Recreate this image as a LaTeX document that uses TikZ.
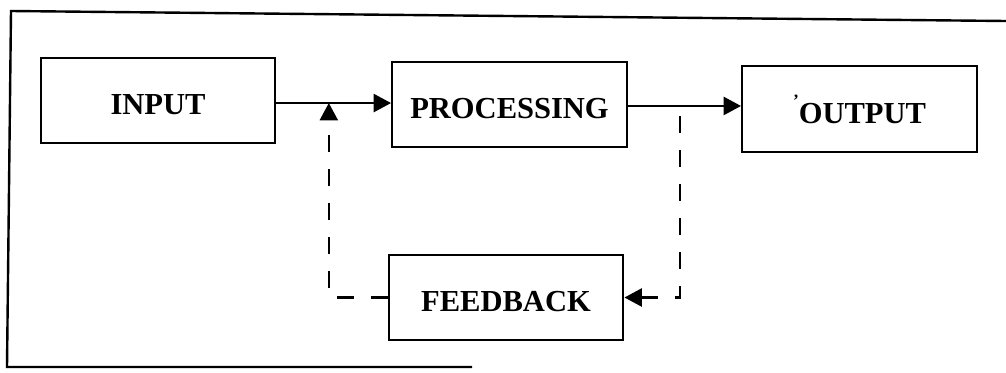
\documentclass[tikz,border=0pt]{standalone}
\usepackage{fontspec}
\setmainfont{Liberation Serif}
\usetikzlibrary{arrows.meta,calc}
\begin{document}
\begin{tikzpicture}[x=0.75pt,y=-0.75pt,
  box/.style={draw, line width=1.7pt, minimum width=176pt, minimum height=64pt,
    inner sep=0pt, font=\fontsize{22.9}{26}\selectfont\bfseries,
    text height=21pt, text depth=0pt},
  flow/.style={line width=1.7pt, -{Triangle[length=13pt,width=13.5pt]}},
  fbflow/.style={flow, dash pattern=on 12.75pt off 12.75pt},
  frame/.style={line width=1.8pt}]
\useasboundingbox (0,0) rectangle (1006,372);
% outer frame
\draw[frame] (1006,21) -- (11,11) -- (7,367) -- (472,367);
% boxes
\node[box] (input) at (158,100.5) {INPUT};
\node[box] (proc) at (509.5,104.5) {PROCESSING};
\node[box] (out) at (859.5,109) {\raisebox{1.2ex}{\fontsize{13}{13}\selectfont'}OUTPUT};
\node[box] (fb) at (506,297.5) {FEEDBACK};
% main flow
\draw[flow] ([yshift=-1.9pt]input.east) -- ([yshift=-1.9pt]input.east -| proc.west);
\draw[flow] ([yshift=-1.1pt]proc.east) -- ([yshift=-1.1pt]proc.east -| out.west);
% feedback loop
\coordinate (tap) at ([yshift=-1.1pt]$(proc.east)!0.46!(proc.east -| out.west)$);
\coordinate (join) at ([yshift=-1.9pt]$(input.east)!0.457!(input.east -| proc.west)$);
\draw[fbflow, dash phase=18pt] (tap) |- (fb.east);
\draw[fbflow] (fb.west) -| (join);
\end{tikzpicture}
\end{document}
